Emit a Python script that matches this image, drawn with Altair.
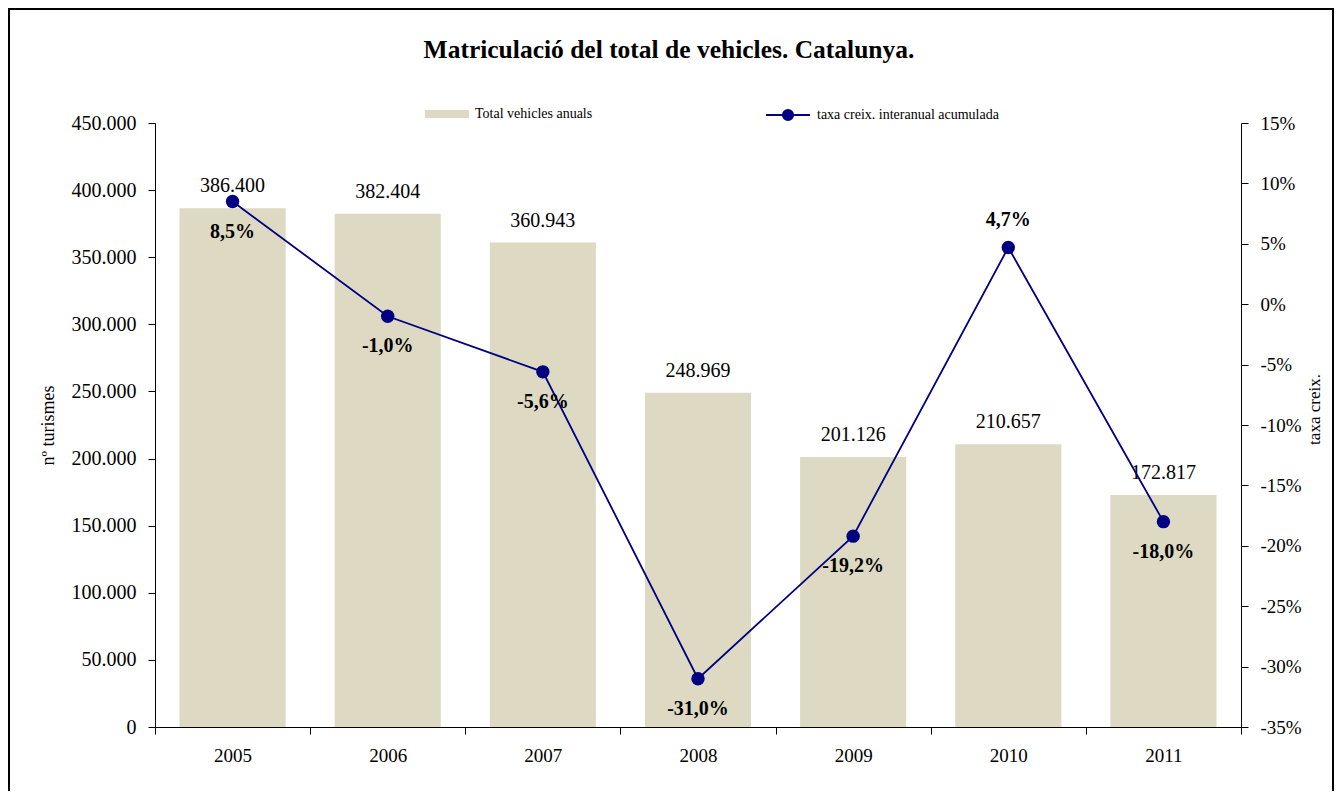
import altair as alt
import pandas as pd

years = ["2005", "2006", "2007", "2008", "2009", "2010", "2011"]
vehicles = [386400, 382404, 360943, 248969, 201126, 210657, 172817]
rates = [0.085, -0.010, -0.056, -0.310, -0.192, 0.047, -0.180]
left_ticks = [0, 50000, 100000, 150000, 200000, 250000, 300000, 350000, 400000, 450000]
right_ticks = [-0.35, -0.30, -0.25, -0.20, -0.15, -0.10, -0.05, 0.0, 0.05, 0.10, 0.15]
bar_series = "Total vehicles anuals"
line_series = "taxa creix. interanual acumulada"

df = pd.DataFrame({
    "year": years,
    "vehicles": vehicles,
    "rate": rates,
    "bar_s": [bar_series] * len(years),
    "line_s": [line_series] * len(years),
})

FONT = "Liberation Serif"
NAVY = "#000080"
BEIGE = "#DDD9C3"

base = alt.Chart(df)
x = alt.X(
    "year:N",
    title=None,
    scale=alt.Scale(paddingInner=0, paddingOuter=0),
    axis=alt.Axis(labelAngle=0, tickBand="extent", tickSize=7, labelPadding=12,
                  labelFontSize=19, domainColor="black", tickColor="black",
                  labelColor="black", labelFont=FONT),
)

left_axis = alt.Axis(orient="left", values=left_ticks, format=",d", grid=False,
                     tickSize=7, labelPadding=12, labelFontSize=20, labelFont=FONT,
                     labelColor="black", domainColor="black", tickColor="black",
                     title="nº turismes", titleFont=FONT, titleFontSize=18,
                     titleFontWeight="normal", titleColor="black", titlePadding=14)
yl = alt.Y("vehicles:Q", scale=alt.Scale(domain=[0, 450000], nice=False), axis=left_axis)

bars = base.mark_bar(width={"band": 0.684}).encode(
    x=x,
    y=yl,
    fill=alt.Fill("bar_s:N", scale=alt.Scale(domain=[bar_series], range=[BEIGE]),
                  legend=alt.Legend(orient="none", legendX=270, legendY=-31, padding=0,
                                    title=None, labelFont=FONT, labelFontSize=14,
                                    labelColor="black", labelOffset=6, labelLimit=400,
                                    symbolType="M-1,-0.18H1V0.18H-1Z", symbolSize=1936,
                                    symbolStrokeWidth=0)),
)
bar_text = base.mark_text(dy=-22, font=FONT, fontSize=20, color="black").encode(
    x=x,
    y=alt.Y("vehicles:Q"),
    text=alt.Text("vehicles:Q", format=",d"),
)
left = alt.layer(bars, bar_text)

right_axis = alt.Axis(orient="right", values=right_ticks, format=".0%", grid=False,
                      tickSize=7, labelPadding=12, labelFontSize=19, labelFont=FONT,
                      labelColor="black", domainColor="black", tickColor="black",
                      title="taxa creix.", titleFont=FONT, titleFontSize=17,
                      titleFontWeight="normal", titleColor="black", titlePadding=5,
                      titleAngle=270, titleBaseline="top", titleY=286)
yr = alt.Y("rate:Q", scale=alt.Scale(domain=[-0.35, 0.15], nice=False), axis=right_axis)

line = base.mark_line(strokeWidth=1.8).encode(
    x=x,
    y=yr,
    stroke=alt.Stroke("line_s:N", scale=alt.Scale(domain=[line_series], range=[NAVY]),
                      legend=alt.Legend(orient="none", legendX=610, legendY=-31, padding=0,
                                        title=None, labelFont=FONT, labelFontSize=14,
                                        labelColor="black", labelOffset=6, labelLimit=400,
                                        symbolType="M-1,0H1M0.23,0A0.23,0.23,0,1,1,-0.23,0A0.23,0.23,0,1,1,0.23,0Z",
                                        symbolSize=1936, symbolFillColor=NAVY,
                                        symbolStrokeWidth=2)),
)
points = base.mark_circle(size=180, color=NAVY, opacity=1).encode(x=x, y=alt.Y("rate:Q"))
rate_below = base.transform_filter("datum.year != '2010'").mark_text(
    dy=30, font=FONT, fontSize=20, fontWeight="bold", color="black").encode(
    x=x, y=alt.Y("rate:Q"), text=alt.Text("rate:Q", format=".1%"))
rate_above = base.transform_filter("datum.year == '2010'").mark_text(
    dy=-27, font=FONT, fontSize=20, fontWeight="bold", color="black").encode(
    x=x, y=alt.Y("rate:Q"), text=alt.Text("rate:Q", format=".1%"))
right = alt.layer(line, points, rate_below, rate_above)

frame = alt.Chart(pd.DataFrame({"f": [0]})).mark_rect(
    filled=False, stroke="black", strokeWidth=2).encode(
    x=alt.value(-146), x2=alt.value(1178), y=alt.value(-114), y2=alt.value(680))

chart = alt.layer(left, right, frame).resolve_scale(y="independent", fill="independent", stroke="independent").properties(
    width=1086,
    height=604,
    padding={"left": 147, "top": 115, "right": 94, "bottom": 64},
    autosize=alt.AutoSizeParams(type="none"),
    title=alt.TitleParams("Matriculació del total de vehicles. Catalunya.", font=FONT,
                          fontSize=25.5, fontWeight="bold", color="black", anchor="middle",
                          baseline="alphabetic", dx=-29, dy=75, offset=0),
).configure(
    locale=alt.Locale(number=alt.NumberLocale(decimal=",", thousands=".", grouping=[3],
                                              currency=["", " €"], minus="-", percent="%")),
    background="white",
).configure_view(strokeWidth=0)

chart.save("out.html", embed_options={"renderer": "svg", "actions": False})
